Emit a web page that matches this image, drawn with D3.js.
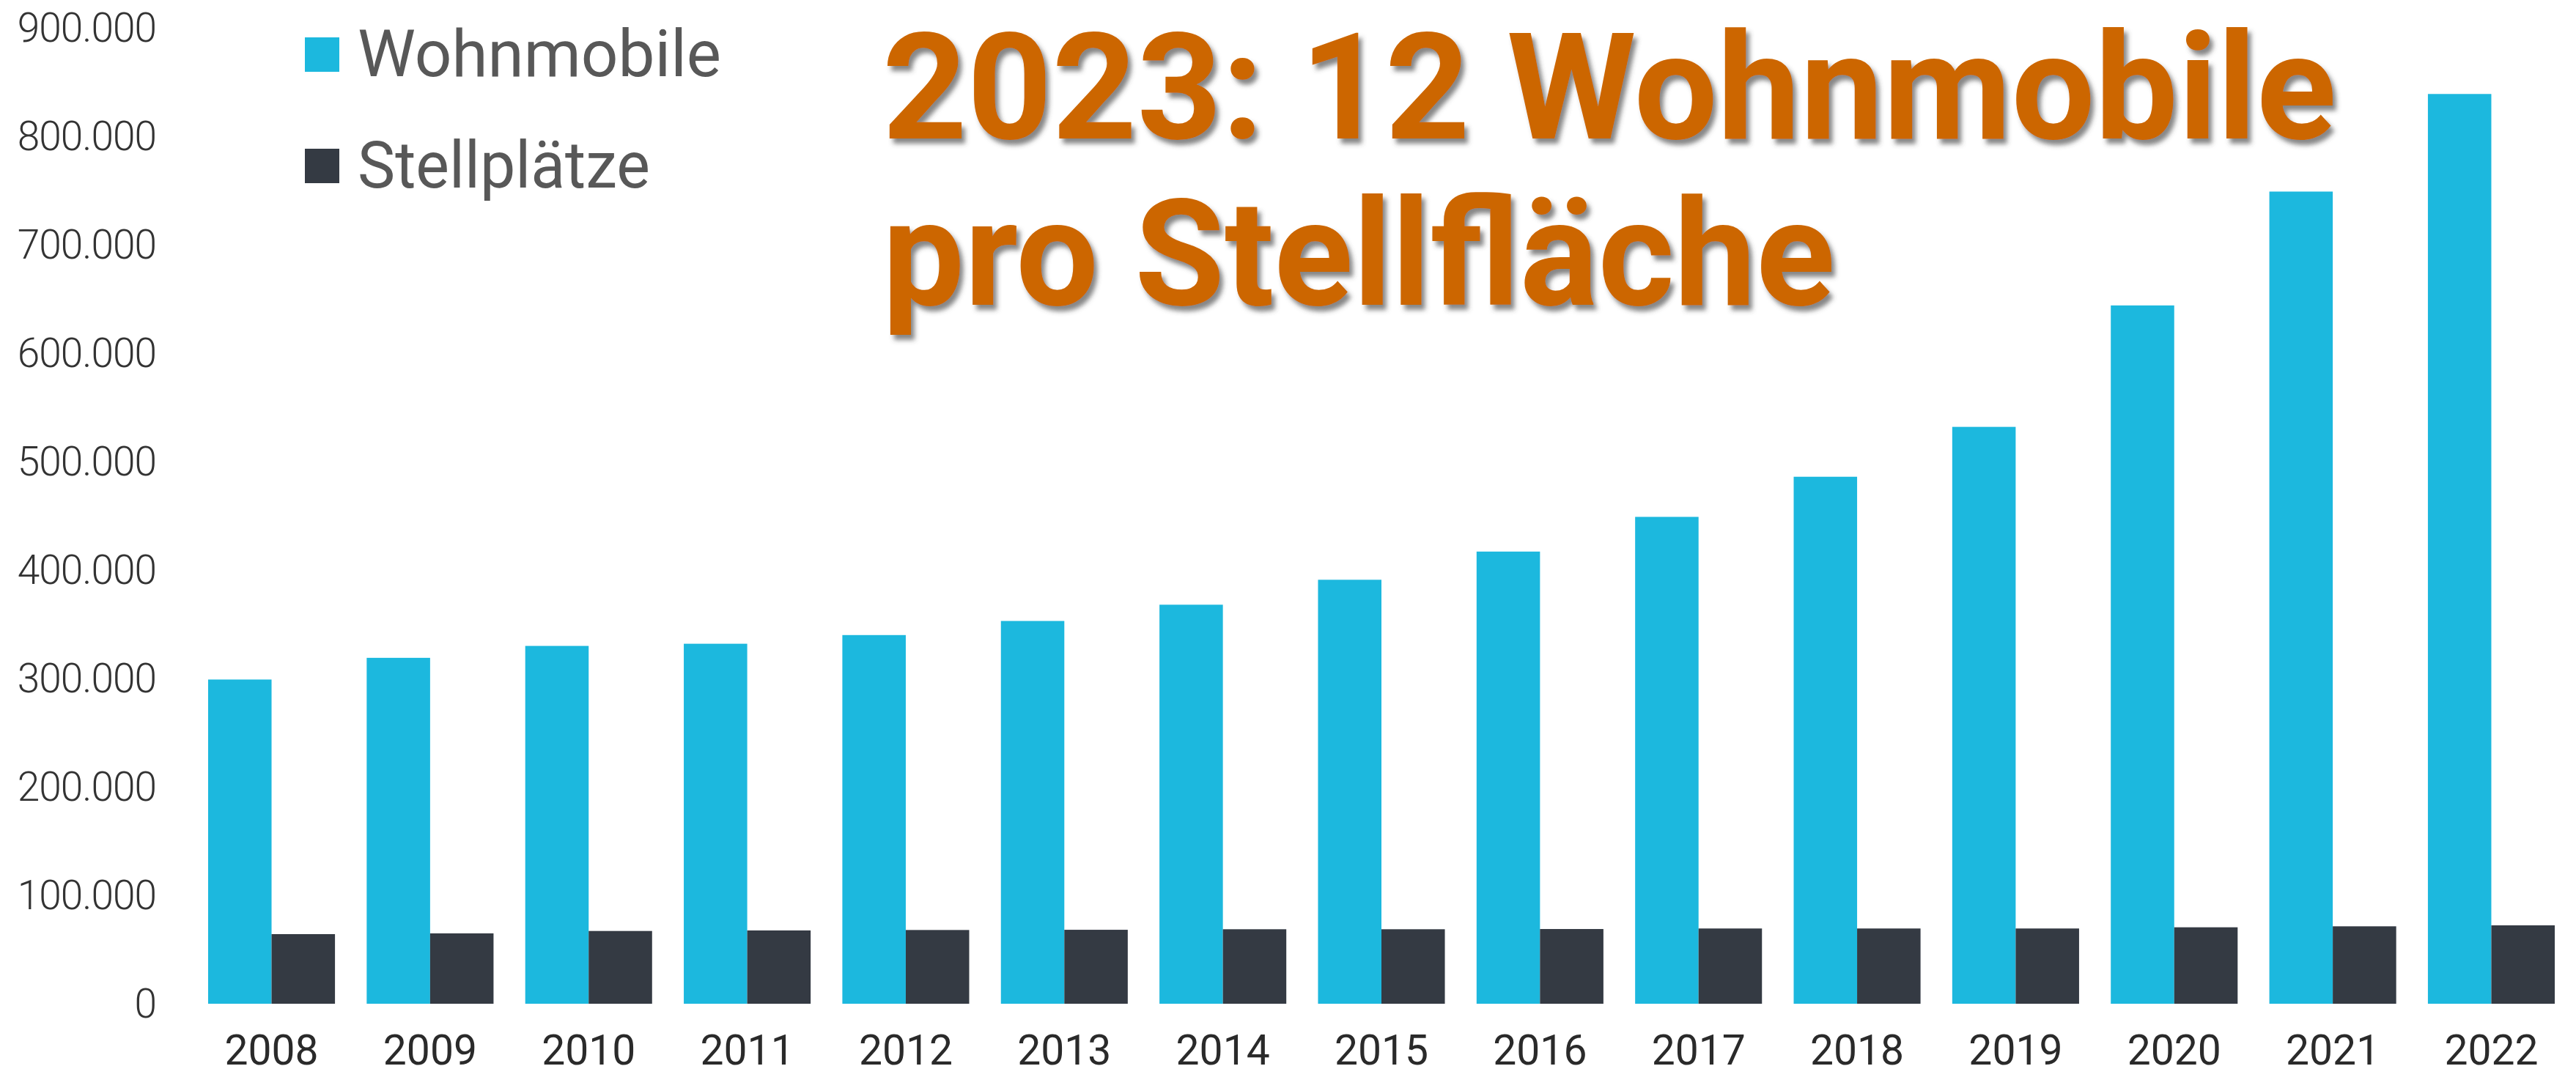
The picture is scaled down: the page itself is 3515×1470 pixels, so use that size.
<!DOCTYPE html>
<html>
<head>
<meta charset="utf-8">
<script src="https://cdn.jsdelivr.net/npm/d3@7"></script>
<style>
  html, body { margin: 0; padding: 0; background: #ffffff; }
  svg { display: block; }
</style>
</head>
<body>
<div id="chart"></div>
<script>
const years = ["2008","2009","2010","2011","2012","2013","2014","2015","2016","2017","2018","2019","2020","2021","2022"];
const seriesNames = ["Wohnmobile", "Stellplätze"];
const wohnmobile = [299000, 319000, 330000, 332000, 340000, 353000, 368000, 391000, 417000, 449000, 486000, 532000, 644000, 749000, 839000];
const stellplaetze = [64200, 64900, 67100, 67600, 68000, 68200, 68700, 68700, 68900, 69400, 69400, 69400, 70500, 71400, 72300];
const yTickValues = [0, 100000, 200000, 300000, 400000, 500000, 600000, 700000, 800000, 900000];
const yTickLabels = ["0", "100.000", "200.000", "300.000", "400.000", "500.000", "600.000", "700.000", "800.000", "900.000"];
const titleLines = ["2023: 12 Wohnmobile", "pro Stellfläche"];

const W = 3515, H = 1470;
const colors = { "Wohnmobile": "#1CB8DE", "Stellplätze": "#343A43" };

const svg = d3.select("#chart").append("svg")
  .attr("width", W).attr("height", H)
  .style("background", "#ffffff");

const defs = svg.append("defs");
const f = defs.append("filter").attr("id", "shadow")
  .attr("x", "-5%").attr("y", "-10%").attr("width", "115%").attr("height", "130%");
f.append("feDropShadow")
  .attr("dx", 5).attr("dy", 7).attr("stdDeviation", 3)
  .attr("flood-color", "#444").attr("flood-opacity", 0.65);

const x0 = d3.scaleBand().domain(years).range([284, 3486]).paddingInner(0.2).paddingOuter(0);
const x1 = d3.scaleBand().domain(seriesNames).range([0, x0.bandwidth()]).padding(0);
const y = d3.scaleLinear().domain([0, 900000]).range([1370, 38]);

const data = years.map((yr, i) => ({ year: yr, values: [
  { key: "Wohnmobile", value: wohnmobile[i] },
  { key: "Stellplätze", value: stellplaetze[i] }
]}));

// Bars
const groups = svg.append("g").selectAll("g").data(data).join("g")
  .attr("transform", d => `translate(${x0(d.year)},0)`);
groups.selectAll("rect").data(d => d.values).join("rect")
  .attr("x", d => x1(d.key))
  .attr("y", d => y(d.value))
  .attr("width", x1.bandwidth())
  .attr("height", d => y(0) - y(d.value))
  .attr("fill", d => colors[d.key]);

// Y axis
const yAxis = svg.append("g")
  .attr("transform", "translate(213,0)")
  .call(d3.axisLeft(y).tickValues(yTickValues)
    .tickFormat((d, i) => yTickLabels[i]).tickSize(0).tickPadding(0));
yAxis.select(".domain").remove();
yAxis.selectAll("text")
  .attr("font-family", "Roboto, 'Noto Sans', sans-serif")
  .attr("font-weight", 300)
  .attr("font-size", 55)
  .attr("letter-spacing", -1)
  .attr("fill", "#333333")
  .attr("dy", "0.34em");

// X axis
const xAxis = svg.append("g")
  .attr("transform", `translate(0,${y(0)})`)
  .call(d3.axisBottom(x0).tickSize(0).tickPadding(0));
xAxis.select(".domain").remove();
xAxis.selectAll("text")
  .attr("font-family", "Roboto, 'Noto Sans', sans-serif")
  .attr("font-weight", 400)
  .attr("font-size", 57)
  .attr("fill", "#2a2a2a")
  .attr("y", 83)
  .attr("dy", 0);

// Legend
const legendY = [51, 203];
const legendBase = [104, 256];
const legendLen = [496, 399];
const legend = svg.append("g");
seriesNames.forEach((name, i) => {
  legend.append("rect")
    .attr("x", 416).attr("y", legendY[i])
    .attr("width", 47).attr("height", 47)
    .attr("fill", colors[name]);
  legend.append("text")
    .attr("x", 488).attr("y", legendBase[i])
    .attr("font-family", "Roboto, 'Noto Sans', sans-serif")
    .attr("font-size", 89)
    .attr("fill", "#585858")
    .attr("textLength", legendLen[i])
    .attr("lengthAdjust", "spacingAndGlyphs")
    .text(name);
});

// Title
const titleBase = [189, 416];
const titleLen = [1984, 1300];
const title = svg.append("g").attr("filter", "url(#shadow)");
titleLines.forEach((t, i) => {
  title.append("text")
    .attr("x", 1204).attr("y", titleBase[i])
    .attr("font-family", "Roboto, 'Noto Sans', sans-serif")
    .attr("font-weight", 700)
    .attr("font-size", 202)
    .attr("fill", "#CC6600")
    .attr("textLength", titleLen[i])
    .attr("lengthAdjust", "spacingAndGlyphs")
    .text(t);
});
</script>
</body>
</html>
